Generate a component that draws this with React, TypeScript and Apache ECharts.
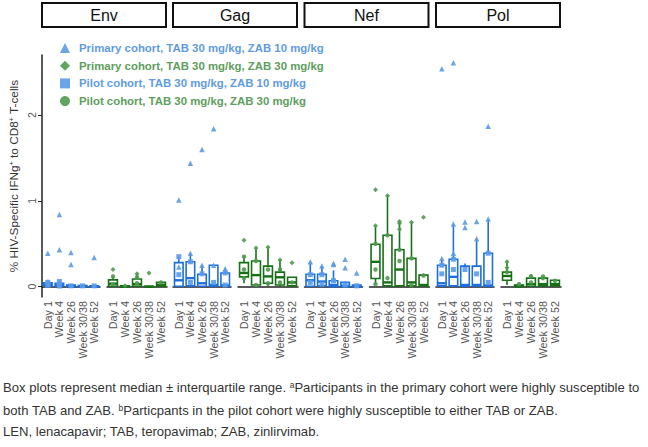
import React, { useEffect, useRef } from "react";
import * as echarts from "echarts";

const timepoints = ["Day 1", "Week 4", "Week 26", "Week 30/38", "Week 52"];
const antigens = ["Env", "Gag", "Nef", "Pol"];
const yTicks = [0, 1, 2];

const seriesNames = [
  "Primary cohort, TAB 30 mg/kg, ZAB 10 mg/kg",
  "Primary cohort, TAB 30 mg/kg, ZAB 30 mg/kg",
  "Pilot cohort, TAB 30 mg/kg, ZAB 10 mg/kg",
  "Pilot cohort, TAB 30 mg/kg, ZAB 30 mg/kg",
];

// Box stats per time point: [min, Q1, median, Q3, max]
const envZab10Box = [
  [0, 0.005, 0.02, 0.045, 0.08],
  [0, 0.005, 0.015, 0.04, 0.07],
  [0, 0, 0.01, 0.02, 0.03],
  [0, 0, 0.005, 0.015, 0.02],
  [0, 0, 0.005, 0.01, 0.02],
];
const envZab30Box = [
  [0, 0.005, 0.035, 0.08, 0.12],
  [0, 0, 0.005, 0.01, 0.02],
  [0, 0.005, 0.03, 0.09, 0.15],
  [0, 0, 0, 0.005, 0.01],
  [0, 0.005, 0.02, 0.05, 0.06],
];
const gagZab10Box = [
  [0, 0.005, 0.075, 0.28, 0.35],
  [0, 0.01, 0.1, 0.29, 0.39],
  [0, 0.005, 0.04, 0.145, 0.25],
  [0, 0.005, 0.02, 0.25, 0.26],
  [0, 0.005, 0.015, 0.16, 0.21],
];
const gagZab30Box = [
  [0.04, 0.115, 0.16, 0.28, 0.355],
  [0, 0.02, 0.135, 0.3, 0.45],
  [0, 0.04, 0.12, 0.24, 0.46],
  [0, 0.02, 0.11, 0.17, 0.31],
  [0, 0.01, 0.05, 0.11, 0.11],
];
const nefZab10Box = [
  [0, 0.005, 0.075, 0.145, 0.29],
  [0, 0.01, 0.06, 0.145, 0.24],
  [0, 0, 0.02, 0.07, 0.19],
  [0, 0, 0.01, 0.05, 0.06],
  [0, 0, 0.005, 0.02, 0.03],
];
const nefZab30Box = [
  [0.03, 0.095, 0.29, 0.495, 0.705],
  [0, 0.01, 0.05, 0.6, 1.065],
  [0, 0.01, 0.2, 0.43, 0.74],
  [0, 0.01, 0.05, 0.33, 0.755],
  [0, 0.01, 0.02, 0.135, 0.15],
];
const polZab10Box = [
  [0, 0.01, 0.04, 0.25, 0.32],
  [0, 0.01, 0.115, 0.32, 0.73],
  [0, 0.005, 0.02, 0.24, 0.27],
  [0, 0.01, 0.02, 0.24, 0.56],
  [0, 0.005, 0.015, 0.39, 0.79],
];
const polZab30Box = [
  [0.02, 0.075, 0.125, 0.17, 0.29],
  [0, 0, 0.01, 0.02, 0.03],
  [0, 0.005, 0.03, 0.1, 0.145],
  [0, 0.01, 0.03, 0.1, 0.12],
  [0, 0.01, 0.03, 0.075, 0.08],
];

// Individual participants: [time point index, value]
const envPrimary10 = [[0, 0.39], [1, 0.43], [1, 0.84], [2, 0.26], [2, 0.4], [4, 0.34], [0, 0.02], [1, 0.01]];
const envPilot10 = [[0, 0.03], [0, 0.05], [1, 0.02], [1, 0.06], [2, 0.01], [3, 0.01], [4, 0.01]];
const envPrimary30 = [[0, 0.2], [2, 0.15], [3, 0.16], [1, 0.01]];
const envPilot30 = [[0, 0.12], [2, 0.11], [4, 0.05], [0, 0.03], [2, 0.04]];

const gagPrimary10 = [[0, 1.01], [1, 1.44], [2, 1.6], [3, 1.84], [0, 0.23], [1, 0.39], [2, 0.25], [3, 0.25], [4, 0.21]];
const gagPilot10 = [[0, 0.35], [0, 0.14], [1, 0.29], [1, 0.05], [2, 0.15], [3, 0.05], [4, 0.16], [4, 0.02]];
const gagPrimary30 = [[0, 0.54], [1, 0.45], [2, 0.46], [3, 0.31], [4, 0.28]];
const gagPilot30 = [[0, 0.35], [0, 0.2], [0, 0.1], [1, 0.3], [1, 0.02], [2, 0.04], [2, 0.2], [3, 0.2], [3, 0.05], [4, 0.05]];

const nefPrimary10 = [[0, 0.29], [1, 0.24], [2, 0.27], [2, 0.26], [3, 0.32], [3, 0.22], [4, 0.16]];
const nefPilot10 = [[0, 0.14], [0, 0.05], [1, 0.14], [1, 0.03], [2, 0.07], [3, 0.02], [4, 0.01]];
const nefPrimary30 = [[0, 1.13], [0, 0.71], [1, 1.06], [2, 0.76], [2, 0.74], [2, 0.67], [3, 0.75], [4, 0.81]];
const nefPilot30 = [[0, 0.5], [0, 0.2], [0, 0.03], [1, 0.1], [1, 0.6], [2, 0.43], [2, 0.3], [3, 0.33], [3, 0.02], [4, 0.13]];

const polPrimary10 = [[0, 2.54], [1, 2.61], [4, 1.87], [0, 0.33], [1, 0.73], [1, 0.39], [2, 0.755], [2, 0.69], [3, 0.76], [3, 0.56], [4, 0.79]];
const polPilot10 = [[0, 0.25], [0, 0.15], [1, 0.32], [1, 0.2], [2, 0.2], [3, 0.15], [4, 0.05], [4, 0.39]];
const polPrimary30 = [[0, 0.29], [0, 0.22]];
const polPilot30 = [[0, 0.17], [1, 0.03], [2, 0.12], [2, 0.05], [3, 0.1], [3, 0.12], [4, 0.07]];

const boxes10 = [envZab10Box, gagZab10Box, nefZab10Box, polZab10Box];
const boxes30 = [envZab30Box, gagZab30Box, nefZab30Box, polZab30Box];
const primary10 = [envPrimary10, gagPrimary10, nefPrimary10, polPrimary10];
const pilot10 = [envPilot10, gagPilot10, nefPilot10, polPilot10];
const primary30 = [envPrimary30, gagPrimary30, nefPrimary30, polPrimary30];
const pilot30 = [envPilot30, gagPilot30, nefPilot30, polPilot30];

const BLUE_BOX = "#1d6fe0";
const GREEN_BOX = "#177017";
const BLUE_PT = "#5b9be6";
const GREEN_PT = "#4f9a4f";
const BLUE_TXT = "#5f9ce2";
const GREEN_TXT = "#5e9e5e";

const FONT = "'Liberation Sans', Arial, sans-serif";

function makeBoxRenderer(color: string) {
  return (params: any, api: any) => {
    const i = api.value(0);
    const lo = api.value(1);
    const q1 = api.value(2);
    const med = api.value(3);
    const q3 = api.value(4);
    const hi = api.value(5);
    const cx = api.coord([i, med])[0];
    const band = api.size([1, 0])[0];
    const w = band * 0.74;
    const yLo = api.coord([i, lo])[1];
    const yQ1 = api.coord([i, q1])[1];
    const yMed = api.coord([i, med])[1];
    const yQ3 = api.coord([i, q3])[1];
    const yHi = api.coord([i, hi])[1];
    const stroke = { stroke: color, lineWidth: 1.6, fill: "none" };
    return {
      type: "group",
      children: [
        { type: "line", shape: { x1: cx, y1: yQ3, x2: cx, y2: yHi }, style: stroke },
        { type: "line", shape: { x1: cx, y1: yQ1, x2: cx, y2: yLo }, style: stroke },
        {
          type: "rect",
          shape: { x: cx - w / 2, y: yQ3, width: w, height: Math.max(yQ1 - yQ3, 0.5) },
          style: { stroke: color, lineWidth: 1.6, fill: "rgba(255,255,255,0)" },
        },
        { type: "line", shape: { x1: cx - w / 2, y1: yMed, x2: cx + w / 2, y2: yMed }, style: { stroke: color, lineWidth: 2.4 } },
      ],
    };
  };
}

export default function App() {
  const ref = useRef<HTMLDivElement>(null);
  useEffect(() => {
    if (!ref.current) return;
    const chart = echarts.init(ref.current, null, { renderer: "svg" });

    const facetLeft = [42, 173, 304.5, 436];
    const facetW = 124;
    const gridTop = 55;
    const gridH = 242;

    const grids: any[] = [];
    const xAxes: any[] = [];
    const yAxes: any[] = [];
    const series: any[] = [];

    antigens.forEach((ag, k) => {
      [0, 1].forEach((g) => {
        const idx = k * 2 + g;
        grids.push({
          left: facetLeft[k] + (g ? 65 : 0),
          top: gridTop,
          width: g ? 60 : 58,
          height: gridH,
        });
        xAxes.push({
          type: "category",
          gridIndex: idx,
          data: timepoints,
          boundaryGap: true,
          axisLine: { lineStyle: { color: "#222", width: 1.5 } },
          axisTick: { alignWithLabel: true, interval: 0, length: 3, lineStyle: { color: "#222", width: 1 } },
          axisLabel: {
            rotate: 90,
            interval: 0,
            fontSize: 10.8,
            color: "#555",
            margin: 4,
            fontFamily: FONT,
          },
          splitLine: { show: false },
        });
        const first = idx === 0;
        yAxes.push({
          type: "value",
          gridIndex: idx,
          min: -0.12,
          max: 2.7,
          show: first,
          splitLine: { show: false },
          axisLine: { show: first, lineStyle: { color: "#222", width: 1.5 } },
          axisTick: { show: first, customValues: yTicks, length: 4, lineStyle: { color: "#222" } },
          axisLabel: {
            show: first,
            customValues: yTicks,
            rotate: 90,
            fontSize: 10.5,
            color: "#555",
            margin: 5,
            fontFamily: FONT,
          },
          name: first ? "% HIV-Specific IFNg{s|+} to CD8{s|+} T-cells" : "",
          nameLocation: "middle",
          nameRotate: 90,
          nameGap: 22,
          nameTextStyle: {
            fontSize: 11.8,
            color: "#333",
            fontFamily: FONT,
            rich: { s: { fontSize: 7, verticalAlign: "top", color: "#333", fontFamily: FONT } },
          },
        });

        const boxData = (g ? boxes30[k] : boxes10[k]).map((b, i) => [i, ...b]);
        series.push({
          type: "custom",
          xAxisIndex: idx,
          yAxisIndex: idx,
          data: boxData,
          encode: { x: 0, y: [1, 2, 3, 4, 5] },
          renderItem: makeBoxRenderer(g ? GREEN_BOX : BLUE_BOX),
          z: 2,
        });
        series.push({
          type: "scatter",
          name: g ? seriesNames[1] : seriesNames[0],
          xAxisIndex: idx,
          yAxisIndex: idx,
          data: g ? primary30[k] : primary10[k],
          symbol: g ? "diamond" : "triangle",
          symbolSize: g ? 5 : 5.5,
          itemStyle: { color: g ? GREEN_PT : BLUE_PT, opacity: 0.9 },
          z: 3,
        });
        series.push({
          type: "scatter",
          name: g ? seriesNames[3] : seriesNames[2],
          xAxisIndex: idx,
          yAxisIndex: idx,
          data: g ? pilot30[k] : pilot10[k],
          symbol: g ? "circle" : "rect",
          symbolSize: g ? 4.5 : 5,
          itemStyle: { color: g ? GREEN_PT : BLUE_PT, opacity: 0.9 },
          z: 3,
        });
      });
    });

    const graphic: any[] = [];
    antigens.forEach((ag, k) => {
      graphic.push({
        type: "rect",
        shape: { x: facetLeft[k], y: 3, width: facetW, height: 24 },
        style: { fill: "#fff", stroke: "#111", lineWidth: 2 },
      });
      graphic.push({
        type: "text",
        x: facetLeft[k] + facetW / 2,
        y: 15.5,
        style: {
          text: ag,
          fill: "#111",
          fontSize: 16,
          fontFamily: FONT,
          align: "center",
          verticalAlign: "middle",
        },
      });
    });

    const footRich = {
      n: { fontSize: 13.1, fill: "#333", fontFamily: FONT },
      s: { fontSize: 8.5, fill: "#333", fontFamily: FONT, verticalAlign: "top" },
    };
    const footLines = [
      "{n|Box plots represent median ± interquartile range. }{s|a}{n|Participants in the primary cohort were highly susceptible to}",
      "{n|both TAB and ZAB. }{s|b}{n|Particpants in the pilot cohort were highly susceptible to either TAB or ZAB.}",
      "{n|LEN, lenacapavir; TAB, teropavimab; ZAB, zinlirvimab.}",
    ];
    const footY = [387, 410, 431];
    footLines.forEach((t, i) => {
      graphic.push({
        type: "text",
        x: 3,
        y: footY[i],
        style: { text: t, rich: footRich, verticalAlign: "middle", align: "left" },
      });
    });

    chart.setOption({
      animation: false,
      grid: grids,
      xAxis: xAxes,
      yAxis: yAxes,
      series,
      legend: {
        orient: "vertical",
        left: 55,
        top: 37,
        itemWidth: 10,
        itemHeight: 10,
        itemGap: 5.7,
        selectedMode: false,
        textStyle: { fontSize: 11.4, fontWeight: "bold", fontFamily: FONT, padding: [0, 0, 0, 4], lineHeight: 12 },
        data: [
          { name: seriesNames[0], icon: "triangle", itemStyle: { color: BLUE_PT }, textStyle: { color: BLUE_TXT } },
          { name: seriesNames[1], icon: "diamond", itemStyle: { color: GREEN_PT }, textStyle: { color: GREEN_TXT } },
          { name: seriesNames[2], icon: "rect", itemStyle: { color: BLUE_PT }, textStyle: { color: BLUE_TXT } },
          { name: seriesNames[3], icon: "circle", itemStyle: { color: GREEN_PT }, textStyle: { color: GREEN_TXT } },
        ],
      },
      graphic,
    });

    return () => chart.dispose();
  }, []);

  return <div ref={ref} style={{ position: "absolute", left: 0, top: 0, width: 648, height: 447 }} />;
}
